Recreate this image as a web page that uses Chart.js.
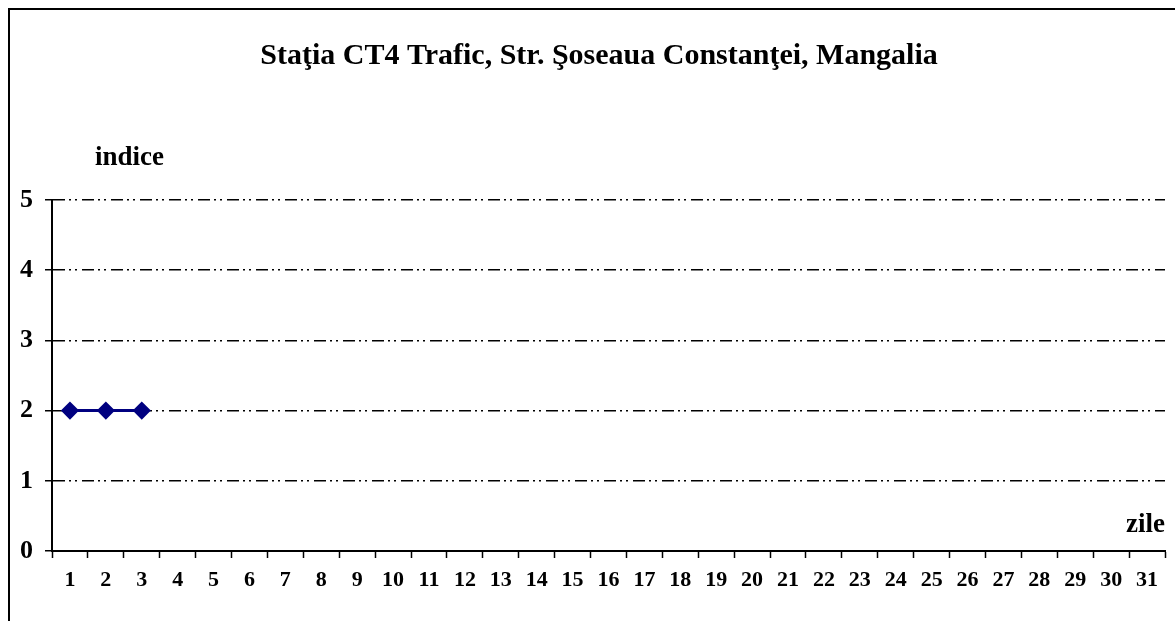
<!DOCTYPE html>
<html>
<head>
<meta charset="utf-8">
<script src="https://cdn.jsdelivr.net/npm/chart.js@4"></script>
<style>
  html, body { margin: 0; padding: 0; background: #fff; overflow: hidden; }
  #frame { position: absolute; left: 8px; top: 8px; width: 1300px; height: 800px; border: 2px solid #000; }
  #wrap { position: absolute; left: 0; top: 0; width: 1175px; height: 621px; }
</style>
</head>
<body>
<div id="frame"></div>
<div id="wrap"><canvas id="myChart" width="1175" height="621"></canvas></div>
<script>
const titleText = 'Staţia CT4 Trafic, Str. Şoseaua Constanţei, Mangalia';
const yAxisTitle = 'indice';
const xAxisTitle = 'zile';

// zilele lunii
const days = ['1','2','3','4','5','6','7','8','9','10','11','12','13','14','15','16',
  '17','18','19','20','21','22','23','24','25','26','27','28','29','30','31'];
// indice calitate aer, doar primele 3 zile
const indice = [2, 2, 2];
const yTicks = [0, 1, 2, 3, 4, 5];

const serif = '"Liberation Serif", "Times New Roman", serif';

// textele fixe: titlu, indice, zile
const textPlugin = {
  id: 'texts',
  afterDraw(chart) {
    const ctx = chart.ctx;
    ctx.save();
    ctx.fillStyle = '#000';
    ctx.textBaseline = 'middle';
    ctx.font = 'bold 30px ' + serif;
    ctx.textAlign = 'center';
    ctx.fillText(titleText, 599, 56);
    ctx.font = 'bold 27px ' + serif;
    ctx.textAlign = 'left';
    ctx.fillText(yAxisTitle, 95, 158);
    ctx.textAlign = 'right';
    ctx.fillText(xAxisTitle, 1165, 525);
    ctx.restore();
  }
};

const data = {
  labels: days,
  datasets: [{
    data: indice,
    borderColor: '#000080',
    backgroundColor: '#000080',
    borderWidth: 3,
    pointStyle: 'rectRot',
    pointRadius: 7,
    pointHoverRadius: 7,
    tension: 0
  }]
};

const config = {
  type: 'line',
  data: data,
  options: {
    responsive: false,
    animation: false,
    events: [],
    layout: { padding: { left: 0, right: 1, top: 200, bottom: 0 } },
    plugins: { legend: { display: false }, tooltip: { enabled: false }, title: { display: false } },
    scales: {
      x: {
        type: 'category',
        offset: true,
        grid: { offset: true, drawOnChartArea: false, color: '#000', tickLength: 7, tickWidth: 1.5, tickColor: '#000' },
        border: { display: true, color: '#000', width: 2 },
        ticks: { color: '#000', font: { family: serif, size: 22, weight: 'bold' }, padding: 9, maxRotation: 0, autoSkip: false },
        afterFit(scale) { scale.height = 70; }
      },
      y: {
        min: 0,
        max: 5,
        afterBuildTicks(scale) { scale.ticks = yTicks.map(v => ({ value: v })); },
        grid: { color: '#000', lineWidth: 1.5, tickLength: 7, tickWidth: 1.5, tickColor: '#000', tickBorderDash: [] },
        border: { display: true, color: '#000', width: 2, dash: [12, 4, 2, 4, 2, 5] },
        ticks: { color: '#000', font: { family: serif, size: 26, weight: 'bold' }, padding: 12 },
        afterFit(scale) { scale.width = 52; }
      }
    }
  },
  plugins: [textPlugin]
};

let myChart = new Chart(document.getElementById('myChart'), config);
</script>
</body>
</html>
